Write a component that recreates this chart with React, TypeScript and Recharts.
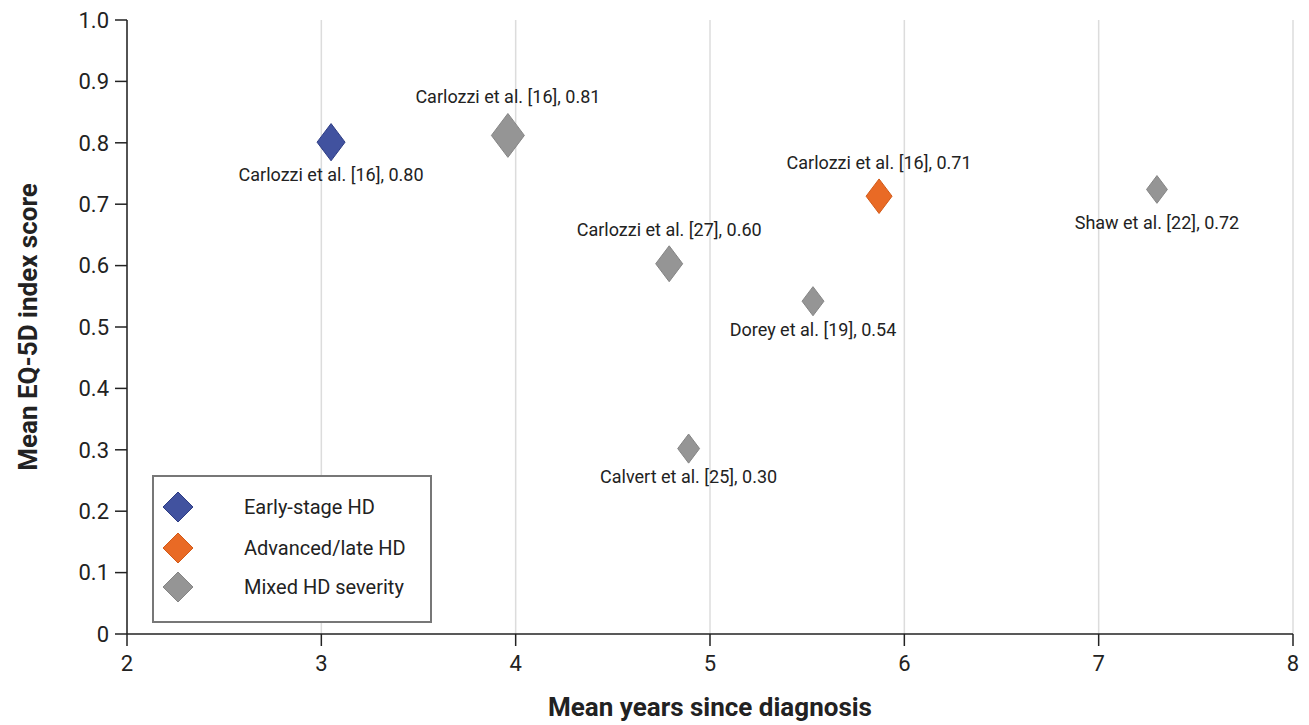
import { ScatterChart, Scatter, XAxis, YAxis, ZAxis, CartesianGrid, Legend } from "recharts";

// studies plotted (years since diagnosis vs EQ-5D index)
const studies = [
  "Carlozzi et al. [16]",
  "Carlozzi et al. [16]",
  "Carlozzi et al. [16]",
  "Shaw et al. [22]",
  "Carlozzi et al. [27]",
  "Dorey et al. [19]",
  "Calvert et al. [25]",
];
const years = [3.05, 3.96, 5.87, 7.3, 4.79, 5.53, 4.89];
const scores = [0.801, 0.812, 0.713, 0.724, 0.603, 0.542, 0.302];
const severity = ["early", "mixed", "advanced", "mixed", "mixed", "mixed", "mixed"];
// relative study weight (marker size)
const weights = [72, 100, 62, 40, 67, 44, 44];

const xTicks = [2, 3, 4, 5, 6, 7, 8];
const yTicks = [0, 0.1, 0.2, 0.3, 0.4, 0.5, 0.6, 0.7, 0.8, 0.9, 1.0];

const groups = [
  { key: "early", name: "Early-stage HD", color: "#41529f", edge: "#2e3d85" },
  { key: "advanced", name: "Advanced/late HD", color: "#e96a25", edge: "#d25a18" },
  { key: "mixed", name: "Mixed HD severity", color: "#959595", edge: "#858585" },
];

// labels drawn above the marker (others go below)
const labelAbove = [false, true, true, false, true, false, false];

const rows = studies.map((s, i) => ({
  study: s,
  x: years[i],
  y: scores[i],
  z: weights[i],
  sev: severity[i],
  idx: i,
}));

const FONT = "Roboto, 'Open Sans', sans-serif";

function makeDiamond(color: string, edge: string) {
  return (props: any) => {
    const { cx, cy, payload } = props;
    const size = props.size ?? 400;
    const r = props.width ? props.width / 2 : Math.sqrt(size / Math.PI);
    const h = r * 1.33;
    const above = labelAbove[payload.idx];
    const ly = above ? cy - h - 10 : cy + h + (payload.idx === 3 ? 26 : 20);
    return (
      <g>
        <path
          d={`M${cx},${cy - h} L${cx + r},${cy} L${cx},${cy + h} L${cx - r},${cy} Z`}
          fill={color}
          stroke={edge}
          strokeWidth={1}
        />
        <text x={cx} y={ly} textAnchor="middle" fontSize={18} fill="#222" fontFamily={FONT}>
          {`${payload.study}, ${payload.y.toFixed(2)}`}
        </text>
      </g>
    );
  };
}

function LegendBox() {
  return (
    <div
      style={{
        width: 276,
        height: 136,
        border: "2px solid #777",
        background: "#fff",
        boxSizing: "content-box",
        fontFamily: FONT,
        paddingTop: 8,
      }}
    >
      {groups.map((g, i) => (
        <div key={g.key} style={{ display: "flex", alignItems: "center", height: i === 0 ? 43 : 39 }}>
          <svg width={90} height={34}>
            <path d="M24,2 L39,17 L24,32 L9,17 Z" fill={g.color} stroke={g.edge} strokeWidth={1} />
          </svg>
          <span style={{ fontSize: 20, color: "#222" }}>{g.name}</span>
        </div>
      ))}
    </div>
  );
}

export default function App() {
  return (
    <div style={{ position: "absolute", left: 0, top: 0 }}>
      <ScatterChart width={1309} height={725} margin={{ top: 20, right: 16, bottom: 0, left: 0 }}>
        <CartesianGrid horizontal={false} stroke="#dcdcdc" strokeWidth={1.5} />
        <XAxis
          type="number"
          dataKey="x"
          domain={[2, 8]}
          ticks={xTicks}
          height={91}
          tickSize={12}
          tickMargin={9}
          stroke="#222"
          strokeWidth={1.5}
          tick={{ fill: "#222", fontSize: 22, fontFamily: FONT }}
          label={{
            value: "Mean years since diagnosis",
            position: "insideBottom",
            offset: 9,
            fill: "#222",
            fontSize: 26,
            fontWeight: 700,
            fontFamily: FONT,
          }}
        />
        <YAxis
          type="number"
          dataKey="y"
          domain={[0, 1]}
          ticks={yTicks}
          width={127}
          tickSize={12}
          tickMargin={6}
          stroke="#222"
          strokeWidth={1.5}
          tickFormatter={(v: number) => (v === 0 ? "0" : v.toFixed(1))}
          tick={{ fill: "#222", fontSize: 22, fontFamily: FONT }}
          label={{
            value: "Mean EQ-5D index score",
            angle: -90,
            position: "insideLeft",
            offset: 28,
            fill: "#222",
            fontSize: 26,
            fontWeight: 700,
            fontFamily: FONT,
            style: { textAnchor: "middle" },
          }}
        />
        <ZAxis type="number" dataKey="z" domain={[0, 100]} range={[0, 855]} />
        {groups.map((g) => (
          <Scatter
            key={g.key}
            name={g.name}
            data={rows.filter((r) => r.sev === g.key)}
            fill={g.color}
            shape={makeDiamond(g.color, g.edge)}
            isAnimationActive={false}
          />
        ))}
        <Legend
          layout="vertical"
          align="center"
          verticalAlign="middle"
          content={() => <LegendBox />}
          wrapperStyle={{ left: 152, top: 475, width: 280, height: 140 }}
        />
      </ScatterChart>
    </div>
  );
}
